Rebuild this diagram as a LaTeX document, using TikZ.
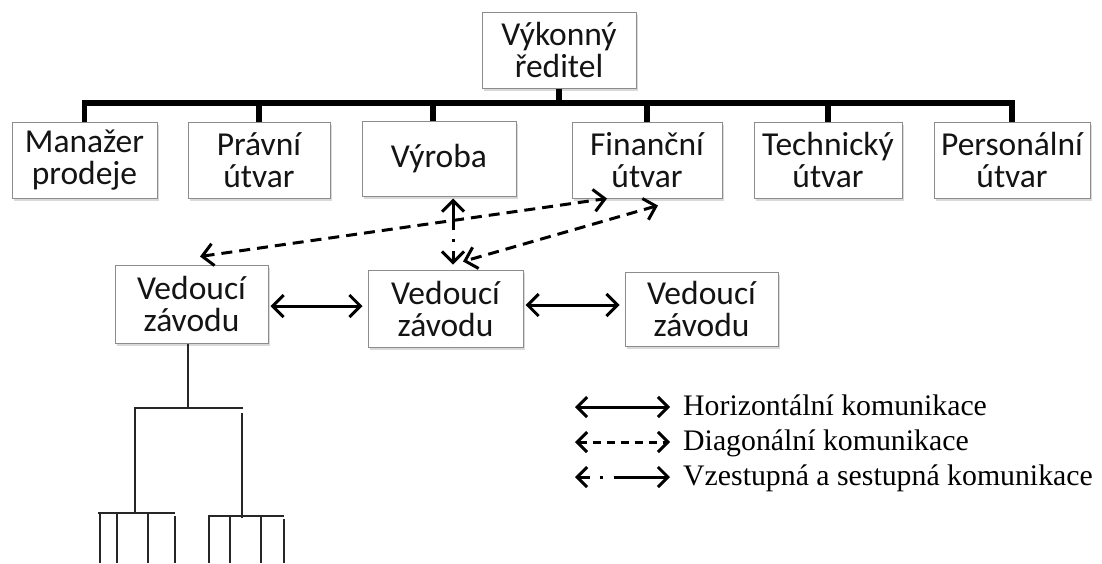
\documentclass[tikz,border=0pt]{standalone}
\usepackage{fontspec}
\setmainfont{Carlito}
\newfontfamily\legfont{Liberation Serif}
\usetikzlibrary{arrows.meta,shadows,calc}
\begin{document}
\begin{tikzpicture}[x=1pt,y=-1pt,
  box/.style={draw=black!45, line width=1pt, fill=white,
    drop shadow={opacity=0.3,shadow xshift=2pt,shadow yshift=-2.5pt},
    align=center, inner sep=0pt, font=\fontsize{33.5}{32}\selectfont, text=black!92},
  org/.style={line width=5.5pt, black},
  con/.style={line width=3pt, black, {Straight Barb[length=11pt,width=22pt]}-{Straight Barb[length=11pt,width=22pt]}},
  dashcon/.style={con, dash pattern=on 11pt off 7pt},
  legcon/.style={line width=3pt, black, {Straight Barb[length=10pt,width=20pt]}-{Straight Barb[length=10pt,width=20pt]}},
  tree/.style={line width=2.8pt, black!85},
  legtext/.style={anchor=base west, inner sep=0pt, font=\legfont\fontsize{29.8}{33}\selectfont, text=black},
]
\path[use as bounding box] (0,0) rectangle (1102,563);

% boxes
\node[box, minimum width=154pt, minimum height=76pt] (top) at (559,50) {Výkonný\\ředitel};
\node[box, minimum width=145pt, minimum height=76pt] (m1) at (84.5,160) {Manažer\\prodeje};
\node[box, minimum width=142pt, minimum height=76pt] (m2) at (259,160) {Právní\\útvar};
\node[box, minimum width=154pt, minimum height=75pt] (m3) at (439,159) {Výroba};
\node[box, minimum width=150pt, minimum height=76pt] (m4) at (647,160) {Finanční\\útvar};
\node[box, minimum width=148pt, minimum height=76pt] (m5) at (828,160) {Technický\\útvar};
\node[box, minimum width=156pt, minimum height=76pt] (m6) at (1012,160) {Personální\\útvar};
\node[box, minimum width=153pt, minimum height=78pt] (A) at (191.5,304) {Vedoucí\\závodu};
\node[box, minimum width=155pt, minimum height=77pt] (B) at (445.5,308.5) {Vedoucí\\závodu};
\node[box, minimum width=153pt, minimum height=74pt] (C) at (701.5,309) {Vedoucí\\závodu};

% top organisation lines
\coordinate (bar) at (0,103);
\draw[org] (m1.north) |- (bar -| m6.north) -- (m6.north);
\draw[org] (top.south) -- (top.south |- bar);
\draw[org] (m2.north) -- (m2.north |- bar);
\draw[org] ([xshift=-6pt]m3.north) -- ([xshift=-6pt]m3.north |- bar);
\draw[org] (m4.north) -- (m4.north |- bar);
\draw[org] (m5.north) -- (m5.north |- bar);

% horizontal communication
\coordinate (h1) at (0,306);
\coordinate (h2) at (0,305);
\draw[con, shorten <=2pt, shorten >=5pt] (A.east |- h1) -- (B.west |- h1);
\draw[con, shorten <=2pt, shorten >=5pt] (B.east |- h2) -- (C.west |- h2);

% diagonal communication
\draw[dashcon] ([xshift=8.5pt,yshift=8pt]A.north) -- ([xshift=-40pt]m4.south);
\draw[dashcon] ([xshift=11pt,yshift=-7pt]m4.south) -- ([xshift=17.5pt,yshift=8pt]B.north);

% vertical communication
\coordinate (vx) at (453,0);
\draw[con, dash pattern=on 28pt off 9pt on 3pt off 9pt on 40pt, shorten <=1.5pt, shorten >=5pt] (m3.south -| vx) -- (B.north -| vx);

% lower tree
\coordinate (t0) at (188,408);
\draw[tree] ([xshift=-3.5pt]A.south) -- (t0);
\draw[tree] (135,513) -- (135,408) -- (243,408);
\draw[tree] (242,413) -- (242,518);
\draw[tree] (98,513) -- (175,513);
\foreach \x in {100,117,148}{\draw[tree] (\x,513) -- (\x,563);}
\draw[tree] (175,516) -- (175,563);
\draw[tree] (208,516) -- (284,516);
\foreach \x in {209,230,261}{\draw[tree] (\x,516) -- (\x,563);}
\draw[tree] (284,519) -- (284,563);

% legend
\node[legtext] (l1) at (683,415) {Horizontální komunikace};
\node[legtext] (l2) at (683,450) {Diagonální komunikace};
\node[legtext] (l3) at (683,485) {Vzestupná a sestupná komunikace};
\coordinate (l1a) at (575,407); \coordinate (l1b) at (670,407);
\coordinate (l2a) at (575,442); \coordinate (l2b) at (670,442);
\coordinate (l3a) at (575,477); \coordinate (l3b) at (670,477);
\draw[legcon] (l1a) -- (l1b);
\draw[legcon, dash pattern=on 8pt off 6pt] (l2a) -- (l2b);
\draw[legcon, dash pattern=on 11pt off 10pt on 3pt off 11pt on 70pt] (l3a) -- (l3b);
\end{tikzpicture}
\end{document}
